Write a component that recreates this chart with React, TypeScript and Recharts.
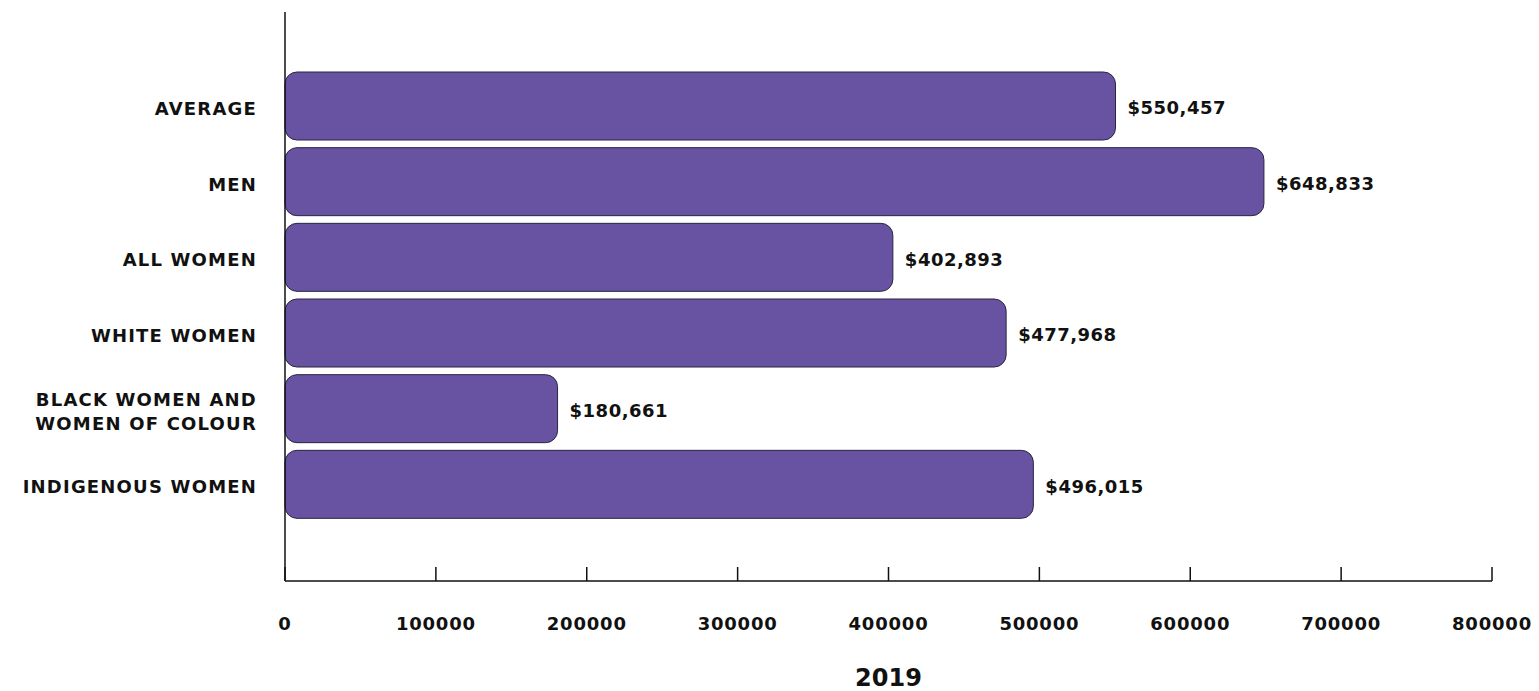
import React from 'react';
import { BarChart, Bar, XAxis, YAxis, LabelList } from 'recharts';

const groups = [
  'AVERAGE',
  'MEN',
  'ALL WOMEN',
  'WHITE WOMEN',
  'BLACK WOMEN AND\nWOMEN OF COLOUR',
  'INDIGENOUS WOMEN',
];
const earnings = [550457, 648833, 402893, 477968, 180661, 496015];
const xTicks = [0, 100000, 200000, 300000, 400000, 500000, 600000, 700000, 800000];
const year = '2019';

const chartData = groups.map((group, i) => ({ group, value: earnings[i] }));

const FONT = '"DejaVu Sans", sans-serif';
const INK = '#111';

const money = (v: any) => '$' + Number(v).toLocaleString('en-US');

function GroupTick(props: any) {
  const { x, y, payload } = props;
  const lines = String(payload.value).split('\n');
  const lineH = 24;
  const startY = y - ((lines.length - 1) * lineH) / 2;
  return (
    <text
      x={x}
      y={startY}
      textAnchor="end"
      dominantBaseline="central"
      fill={INK}
      fontFamily={FONT}
      fontWeight={700}
      fontSize={18}
      letterSpacing={1.2}
    >
      {lines.map((line, i) => (
        <tspan key={i} x={x} y={startY + i * lineH + 2}>
          {line}
        </tspan>
      ))}
    </text>
  );
}

function ValueTick(props: any) {
  const { x, y, payload } = props;
  return (
    <g>
      <line x1={x} x2={x} y1={y - 14} y2={y} stroke={INK} strokeWidth={1.5} />
      <text
        x={x}
        y={y + 49}
        textAnchor="middle"
        fill={INK}
        fontFamily={FONT}
        fontWeight={700}
        fontSize={18}
        letterSpacing={0.8}
      >
        {payload.value}
      </text>
    </g>
  );
}

export default function App() {
  return (
    <div style={{ position: 'absolute', left: 0, top: 0, background: '#fff' }}>
      <BarChart
        width={1539}
        height={691}
        data={chartData}
        layout="vertical"
        margin={{ top: 12, right: 47, bottom: 5, left: 0 }}
      >
        <XAxis
          type="number"
          domain={[0, 800000]}
          ticks={xTicks}
          interval={0}
          height={105}
          tickSize={0}
          tickMargin={0}
          tickLine={false}
          tick={<ValueTick />}
          axisLine={{ stroke: INK, strokeWidth: 1.5 }}
          label={{
            value: year,
            position: 'insideBottom',
            offset: 0,
            fill: INK,
            fontFamily: FONT,
            fontWeight: 700,
            fontSize: 24,
          }}
        />
        <YAxis
          type="category"
          dataKey="group"
          width={285}
          padding={{ top: 56, bottom: 59 }}
          tickSize={0}
          tickMargin={28}
          tickLine={false}
          tick={<GroupTick />}
          axisLine={{ stroke: INK, strokeWidth: 1.5 }}
        />
        <Bar
          dataKey="value"
          fill="#6753A1"
          stroke="#2a2540"
          strokeWidth={1}
          barSize={68}
          radius={12}
          isAnimationActive={false}
        >
          <LabelList
            dataKey="value"
            position="right"
            offset={12}
            formatter={money}
            fill={INK}
            fontFamily={FONT}
            fontWeight={700}
            fontSize={18}
            letterSpacing={0.5}
            dy={2}
          />
        </Bar>
      </BarChart>
    </div>
  );
}
